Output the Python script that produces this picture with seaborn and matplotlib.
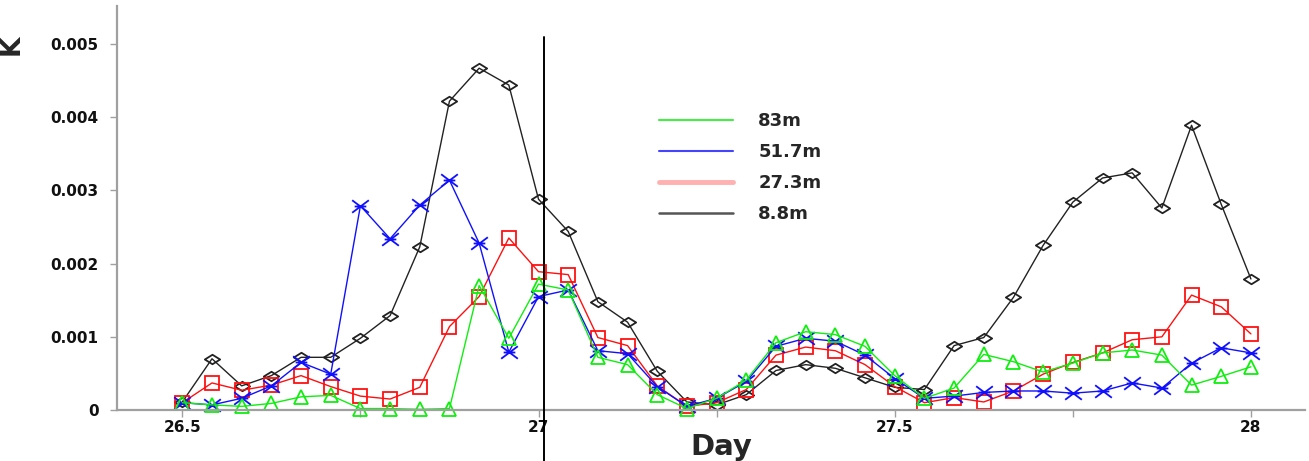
import numpy as np
import pandas as pd
import matplotlib
matplotlib.use("Agg")
import matplotlib.pyplot as plt
from matplotlib.lines import Line2D
from matplotlib.path import Path
from matplotlib.ticker import FuncFormatter, MultipleLocator
import seaborn as sns

# Hourly samples from day 26.5 to day 28.0
hours = list(range(636, 673))
day = [h / 24 for h in hours]

k_83m = [0.00010, 0.00007, 0.00005, 0.00009, 0.00018, 0.00020, 0.00002, 0.00002, 0.00001, 0.00002,
         0.00170, 0.00098, 0.00172, 0.00164, 0.00072, 0.00062, 0.00021, 0.00002, 0.00016, 0.00041,
         0.00092, 0.00107, 0.00103, 0.00087, 0.00047, 0.00016, 0.00030, 0.00076, 0.00066, 0.00052,
         0.00064, 0.00078, 0.00082, 0.00075, 0.00034, 0.00046, 0.00059]
k_517m = [0.00010, 0.00007, 0.00016, 0.00033, 0.00065, 0.00049, 0.00279, 0.00234, 0.00280, 0.00314,
          0.00228, 0.00079, 0.00155, 0.00164, 0.00081, 0.00077, 0.00032, 0.00005, 0.00016, 0.00039,
          0.00087, 0.00098, 0.00094, 0.00075, 0.00043, 0.00016, 0.00019, 0.00024, 0.00026, 0.00026,
          0.00023, 0.00026, 0.00037, 0.00030, 0.00064, 0.00085, 0.00078]
k_273m = [0.00010, 0.00037, 0.00027, 0.00034, 0.00047, 0.00032, 0.00019, 0.00015, 0.00031, 0.00114,
          0.00155, 0.00235, 0.00189, 0.00185, 0.00099, 0.00088, 0.00033, 0.00005, 0.00010, 0.00028,
          0.00075, 0.00086, 0.00081, 0.00062, 0.00032, 0.00010, 0.00017, 0.00011, 0.00026, 0.00049,
          0.00065, 0.00078, 0.00096, 0.00100, 0.00157, 0.00141, 0.00104]
k_88m = [0.00011, 0.00070, 0.00033, 0.00047, 0.00072, 0.00072, 0.00098, 0.00129, 0.00223, 0.00422,
         0.00467, 0.00444, 0.00288, 0.00244, 0.00148, 0.00120, 0.00053, 0.00011, 0.00007, 0.00021,
         0.00054, 0.00062, 0.00057, 0.00044, 0.00031, 0.00028, 0.00088, 0.00099, 0.00154, 0.00225,
         0.00284, 0.00317, 0.00324, 0.00276, 0.00389, 0.00281, 0.00179]

depth_labels = ["83m", "51.7m", "27.3m", "8.8m"]
x_ticks = [26.5, 27.0, 27.5, 28.0]
y_ticks = [0, 0.001, 0.002, 0.003, 0.004, 0.005]
marker_day = 27.007

sns.set_style("ticks")
plt.rcParams["font.family"] = ["DejaVu Sans"]

# Custom marker shapes: flattened diamond and a barred cross
diamond = Path([(-1, 0), (0, 0.62), (1, 0), (0, -0.62), (-1, 0)],
               [Path.MOVETO, Path.LINETO, Path.LINETO, Path.LINETO, Path.CLOSEPOLY])
barred_x = Path([(-1, -0.75), (1, 0.75), (-1, 0.75), (1, -0.75), (-0.7, 0), (0.7, 0)],
                [Path.MOVETO, Path.LINETO, Path.MOVETO, Path.LINETO, Path.MOVETO, Path.LINETO])

series = [
    ("8.8m", k_88m, "#222222", diamond, 11),
    ("27.3m", k_273m, "#ff1010", "s", 9.5),
    ("51.7m", k_517m, "#1010ff", barred_x, 12),
    ("83m", k_83m, "#10ee10", "^", 10),
]

fig = plt.figure(figsize=(13.09, 4.61), dpi=100)
ax = fig.add_axes([0.0892, 0.1106, 0.9078, 0.8764])

for name, vals, col, mk, ms in series:
    df = pd.DataFrame({"Day": day, "K": vals})
    sns.lineplot(data=df, x="Day", y="K", ax=ax, color=col, linewidth=1.0,
                 marker=mk, markersize=ms, markerfacecolor="none",
                 markeredgecolor=col, markeredgewidth=1.3, legend=False,
                 clip_on=False)

ax.set_xlim(26.408, 28.076)
ax.set_ylim(0, 0.00552)

# vertical reference line crossing the x axis
ax.axvline(marker_day, ymin=-0.127, ymax=0.923, color="black", linewidth=1.4,
           clip_on=False, zorder=5)

ax.set_xticks(x_ticks)
ax.xaxis.set_minor_locator(MultipleLocator(0.25))
ax.xaxis.set_major_formatter(FuncFormatter(lambda v, p: f"{v:g}"))
ax.set_yticks(y_ticks)
ax.yaxis.set_major_formatter(FuncFormatter(lambda v, p: f"{v:g}"))

for side in ["top", "right"]:
    ax.spines[side].set_visible(False)
for side in ["left", "bottom"]:
    ax.spines[side].set_color("#a0a0a0")
    ax.spines[side].set_linewidth(1.6)

ax.tick_params(axis="both", which="both", direction="out", length=5, width=1.0,
               color="#a0a0a0", labelsize=11, labelcolor="#111111")
ax.tick_params(axis="x", pad=2)
ax.tick_params(axis="y", pad=8)
for lbl in ax.get_xticklabels() + ax.get_yticklabels():
    lbl.set_fontweight("bold")

ax.set_xlabel("")
ax.set_ylabel("")
fig.text(721 / 1309, 1 - 447 / 461, "Day", fontsize=21, fontweight="bold",
         ha="center", va="center")
fig.text(0.009, 0.902, "K", rotation=90, fontsize=19, fontweight="bold",
         ha="center", va="center")

handles = [
    Line2D([], [], color="#44ee44", linewidth=1.5),
    Line2D([], [], color="#4444ff", linewidth=1.5),
    Line2D([], [], color="#ffb0b0", linewidth=3.5),
    Line2D([], [], color="#555555", linewidth=1.8),
]
fig.legend(handles, depth_labels, loc="upper left",
           bbox_to_anchor=(659 / 1309, 1 - 112 / 461), frameon=False,
           prop={"size": 13, "weight": "bold"}, handlelength=4.1,
           handletextpad=1.4, labelspacing=0.72, borderpad=0, borderaxespad=0)

fig.savefig("out.png", dpi=100)
